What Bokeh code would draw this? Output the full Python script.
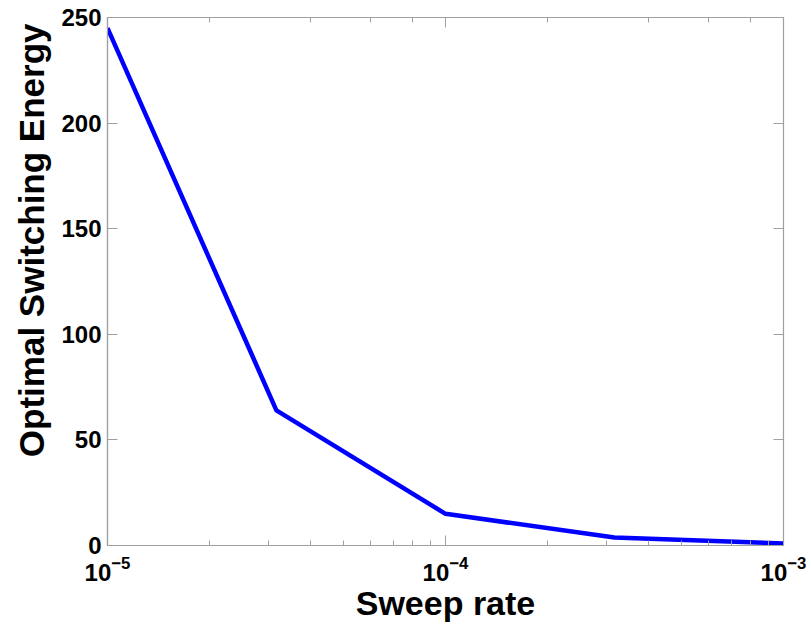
from bokeh.plotting import figure
from bokeh.models import Range1d, FixedTicker, LogAxis, LinearAxis, LogTicker, Title
from bokeh.embed import file_html
from bokeh.resources import INLINE

sweep_rate = [1e-5, 3.16e-5, 1e-4, 3.16e-4, 1e-3]
energy = [245, 64, 15, 3.8, 1]
y_ticks = [0, 50, 100, 150, 200, 250]

p = figure(width=811, height=625, x_axis_type="log",
           x_range=Range1d(1e-5, 1e-3), y_range=Range1d(0, 250),
           output_backend="svg", toolbar_location=None,
           min_border_left=107, min_border_right=28, min_border_top=17, min_border_bottom=80)
p.frame_width = 676
p.frame_height = 528
p.grid.visible = False
p.outline_line_color = "#a0a0a0"
p.outline_line_width = 1.2

p.line(sweep_rate, energy, line_color="#0000ff", line_width=4.5)

axis_color = "#a0a0a0"
font = "Liberation Sans"
for ax in [p.xaxis[0], p.yaxis[0]]:
    ax.axis_line_color = axis_color
    ax.axis_line_width = 1.2
    ax.major_tick_line_color = axis_color
    ax.minor_tick_line_color = axis_color
    ax.major_tick_in = 10
    ax.major_tick_out = 0
    ax.minor_tick_in = 5
    ax.minor_tick_out = 0
    ax.major_label_text_font = font
    ax.major_label_text_font_style = "bold"
    ax.major_label_text_font_size = "24px"
    ax.major_label_text_color = "black"
    ax.axis_label_text_font = font
    ax.axis_label_text_font_style = "bold"
    ax.axis_label_text_font_size = "34px"
    ax.axis_label_text_color = "black"

p.yaxis[0].ticker = FixedTicker(ticks=y_ticks)
p.yaxis[0].minor_tick_line_color = None
p.yaxis[0].major_label_standoff = 6
p.xaxis[0].major_label_standoff = 10
p.xaxis.axis_label = "Sweep rate"
p.xaxis[0].axis_label_standoff = 0

# y-axis title (placed like the MATLAB original, slightly above centre)
ylab = Title(text="Optimal Switching Energy", align="right", offset=6,
             text_font=font, text_font_style="bold", text_font_size="35px",
             text_color="black", standoff=15)
p.add_layout(ylab, "left")

# ticks on the top and right sides (MATLAB box)
top = LogAxis(ticker=LogTicker(), major_label_text_font_size="1px", major_label_text_color=None,
              axis_line_color=None,
              major_tick_line_color=axis_color, minor_tick_line_color=axis_color,
              major_tick_in=10, major_tick_out=0, minor_tick_in=5, minor_tick_out=0,
              major_label_standoff=0)
right = LinearAxis(ticker=FixedTicker(ticks=y_ticks), major_label_text_font_size="1px",
                   major_label_text_color=None,
                   axis_line_color=None, major_tick_line_color=axis_color,
                   major_tick_in=10, major_tick_out=0, minor_tick_line_color=None,
                   major_label_standoff=0)
p.add_layout(top, "above")
p.add_layout(right, "right")

open("out.html", "w").write(file_html(p, INLINE))
